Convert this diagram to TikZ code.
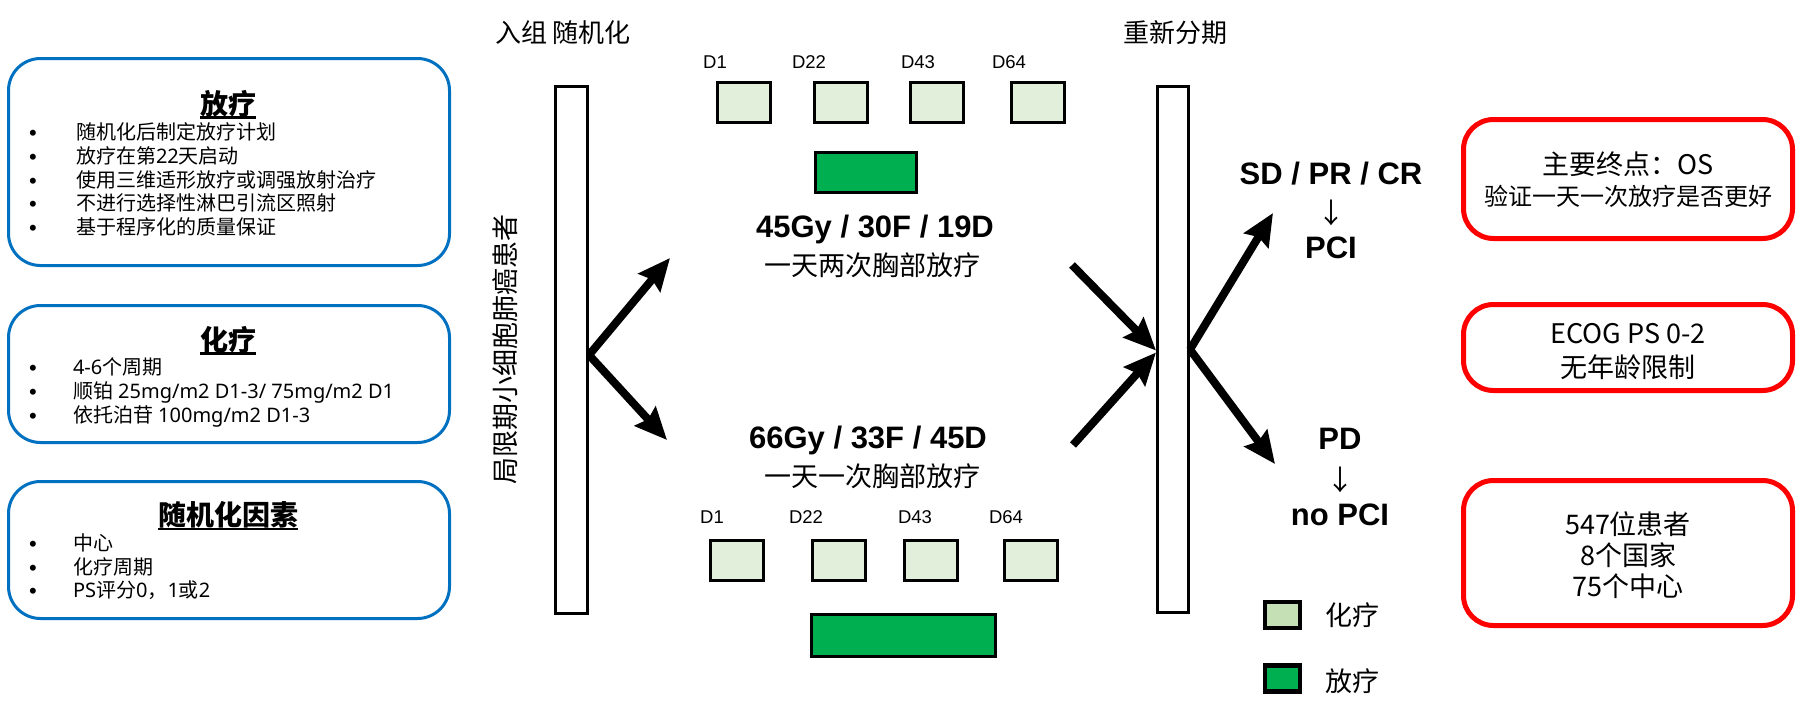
\documentclass[tikz,border=0pt]{standalone}
\usepackage{fontspec}
\setmainfont{Liberation Sans}
\newfontfamily\cjk{Noto Sans CJK SC}
\newfontfamily\lat{Noto Sans}
\usetikzlibrary{arrows.meta,calc}
\definecolor{myblue}{HTML}{0070C0}
\definecolor{myred}{HTML}{FF0000}
\definecolor{chemofill}{HTML}{E2EFDA}
\definecolor{legchemo}{HTML}{C5E0B4}
\definecolor{radiofill}{HTML}{00B050}
\newcommand{\fsz}[1]{\fontsize{#1}{#1}\selectfont}
\begin{document}
\begin{tikzpicture}[x=1pt,y=-1pt,
  txt/.style={inner sep=0pt,outer sep=0pt,anchor=base},
  lt/.style={inner sep=0pt,outer sep=0pt,anchor=base west,font=\cjk\fsz{20}},
  bul/.style={inner sep=0pt,outer sep=0pt,anchor=base,font=\fsz{22}},
  ttl/.style={inner sep=0pt,outer sep=0pt,anchor=base,font=\cjk\bfseries\fsz{28}},
  bluebox/.style={draw=myblue,line width=3pt,rounded corners=32pt,inner sep=0pt},
  redbox/.style={draw=myred,line width=5pt,rounded corners=30pt,inner sep=0pt},
  bar/.style={draw=black,line width=3pt,fill=white,inner sep=0pt},
  chemo/.style={draw=black,line width=3pt,fill=chemofill,inner sep=0pt,minimum width=53pt,minimum height=40pt},
  radio/.style={draw=black,line width=3pt,fill=radiofill,inner sep=0pt},
  legbox/.style={draw=black,line width=4.5pt,inner sep=0pt,minimum width=35pt,minimum height=26pt},
  bigarrow/.style={line width=8pt,-{Stealth[length=32pt,width=28pt,inset=4pt]}},
  uline/.style={line width=2.2pt}
]
\useasboundingbox (0,0) rectangle (1802,704);

% ---------- left blue boxes ----------
\node[bluebox,minimum width=441pt,minimum height=207pt] (b1) at (229,162) {};
\node[bluebox,minimum width=441pt,minimum height=137pt] (b2) at (229,374) {};
\node[bluebox,minimum width=441pt,minimum height=137pt] (b3) at (229,550) {};

\node[ttl] (t1) at (228,114) {放疗};
\draw[uline] ($(t1.base west)+(0,3.5)$) -- ($(t1.base east)+(0,3.5)$);
\node[bul] (u11) at (33,140.6) {•};
\node[bul] (u12) at (33,164.3) {•};
\node[bul] (u13) at (33,188) {•};
\node[bul] (u14) at (33,211.7) {•};
\node[bul] (u15) at (33,235.4) {•};
\node[lt] (l11) at (76,139.6) {随机化后制定放疗计划};
\node[lt] (l12) at (76,163.3) {放疗在第{\lat 22}天启动};
\node[lt] (l13) at (76,187) {使用三维适形放疗或调强放射治疗};
\node[lt] (l14) at (76,210.7) {不进行选择性淋巴引流区照射};
\node[lt] (l15) at (76,234.4) {基于程序化的质量保证};

\node[ttl] (t2) at (228,350) {化疗};
\draw[uline] ($(t2.base west)+(0,3.5)$) -- ($(t2.base east)+(0,3.5)$);
\node[bul] (u21) at (33,375.9) {•};
\node[bul] (u22) at (33,399.3) {•};
\node[bul] (u23) at (33,423.6) {•};
\node[lt] (l21) at (73,374.9) {{\lat 4-6}个周期};
\node[lt] (l22) at (73,398.3) {顺铂{\lat\ 25mg/m2 D1-3/ 75mg/m2 D1}};
\node[lt] (l23) at (73,422.6) {依托泊苷{\lat\ 100mg/m2 D1-3}};

\node[ttl] (t3) at (228,525.6) {随机化因素};
\draw[uline] ($(t3.base west)+(0,3.5)$) -- ($(t3.base east)+(0,3.5)$);
\node[bul] (u31) at (33,551.9) {•};
\node[bul] (u32) at (33,575.3) {•};
\node[bul] (u33) at (33,598.6) {•};
\node[lt] (l31) at (73,550.9) {中心};
\node[lt] (l32) at (73,574.3) {化疗周期};
\node[lt] (l33) at (73,597.6) {{\lat PS}评分{\lat 0}，{\lat 1}或{\lat 2}};

% ---------- middle ----------
\node[txt,font=\cjk\fsz{26}] (enroll) at (563,42) {入组 随机化};
\node[txt,font=\cjk\fsz{26}] (restage) at (1175,42) {重新分期};

\node[bar,minimum width=32pt,minimum height=527pt] (lbar) at (571.5,350) {};
\node[txt,rotate=90,font=\cjk\fsz{27}] (pop) at (515,349) {局限期小细胞肺癌患者};

% top timeline
\node[txt,font=\fsz{18.5}] (td1) at (715,68) {D1};
\node[txt,font=\fsz{18.5}] (td22) at (809,68) {D22};
\node[txt,font=\fsz{18.5}] (td43) at (918,68) {D43};
\node[txt,font=\fsz{18.5}] (td64) at (1009,68) {D64};
\node[chemo] (tc1) at (744,102.5) {};
\node[chemo] (tc2) at (841,102.5) {};
\node[chemo] (tc3) at (937,102.5) {};
\node[chemo] (tc4) at (1038,102.5) {};
\node[radio,minimum width=101pt,minimum height=40pt] (tr) at (866,172.5) {};
\node[txt,font=\bfseries\fsz{31}] (dose1) at (875,237) {45Gy / 30F / 19D};
\node[txt,font=\cjk\fsz{27}] (sch1) at (872,275) {一天两次胸部放疗};

% bottom timeline
\node[txt,font=\bfseries\fsz{31}] (dose2) at (868,448) {66Gy / 33F / 45D};
\node[txt,font=\cjk\fsz{27}] (sch2) at (872,486) {一天一次胸部放疗};
\node[txt,font=\fsz{18.5}] (bd1) at (712,523) {D1};
\node[txt,font=\fsz{18.5}] (bd22) at (806,523) {D22};
\node[txt,font=\fsz{18.5}] (bd43) at (915,523) {D43};
\node[txt,font=\fsz{18.5}] (bd64) at (1006,523) {D64};
\node[chemo] (bc1) at (737,560.5) {};
\node[chemo] (bc2) at (839,560.5) {};
\node[chemo] (bc3) at (930.5,560.5) {};
\node[chemo] (bc4) at (1031,560.5) {};
\node[radio,minimum width=184pt,minimum height=42pt] (br) at (903.5,635.5) {};

% arrows from left bar
\coordinate (lup) at (670,258);
\coordinate (ldn) at (667,440);
\draw[bigarrow] ([yshift=-5pt]lbar.east) -- (lup);
\draw[bigarrow] ([yshift=-5pt]lbar.east) -- (ldn);

% right bar
\node[bar,minimum width=31pt,minimum height=526pt] (rbar) at (1173,349.5) {};
\coordinate (rin1) at (1072,265);
\coordinate (rin2) at (1073,445);
\draw[bigarrow] (rin1) -- ([yshift=-1pt]rbar.west);
\draw[bigarrow] (rin2) -- ([yshift=-3pt]rbar.west);
\coordinate (rup) at (1273,213);
\coordinate (rdn) at (1275,464);
\draw[bigarrow] (rbar.east) -- (rup);
\draw[bigarrow] (rbar.east) -- (rdn);

\node[txt,font=\bfseries\fsz{31}] (resp) at (1331,184) {SD / PR / CR};
\node[txt,font=\cjk\fsz{28}] (ar1) at (1331,223) {↓};
\node[txt,font=\bfseries\fsz{31}] (pci) at (1331,258) {PCI};
\node[txt,font=\bfseries\fsz{31}] (pd) at (1340,449) {PD};
\node[txt,font=\cjk\fsz{28}] (ar2) at (1340,490) {↓};
\node[txt,font=\bfseries\fsz{31}] (nopci) at (1340,525) {no PCI};

% legend
\node[legbox,fill=legchemo] (lg1) at (1282.5,615) {};
\node[txt,font=\cjk\fsz{27}] (lg1t) at (1352.5,625) {化疗};
\node[legbox,fill=radiofill] (lg2) at (1282.5,678.5) {};
\node[txt,font=\cjk\fsz{27}] (lg2t) at (1352.5,691) {放疗};

% ---------- right red boxes ----------
\node[redbox,minimum width=329pt,minimum height=119pt] (ra) at (1628,179) {};
\node[redbox,minimum width=329pt,minimum height=86pt] (rb) at (1628,347.5) {};
\node[redbox,minimum width=329pt,minimum height=145pt] (rc) at (1628,553) {};

\node[txt,font=\cjk\fsz{27}] (ra1) at (1628,174) {主要终点：OS};
\node[txt,font=\cjk\fsz{24}] (ra2) at (1628,205) {验证一天一次放疗是否更好};
\node[txt,font=\cjk\fsz{27}] (rb1) at (1628,343) {ECOG PS 0-2};
\node[txt,font=\cjk\fsz{27}] (rb2) at (1628,377) {无年龄限制};
\node[txt,font=\cjk\fsz{27}] (rc1) at (1628,534) {547位患者};
\node[txt,font=\cjk\fsz{27}] (rc2) at (1628,565) {8个国家};
\node[txt,font=\cjk\fsz{27}] (rc3) at (1628,596) {75个中心};
\end{tikzpicture}
\end{document}
